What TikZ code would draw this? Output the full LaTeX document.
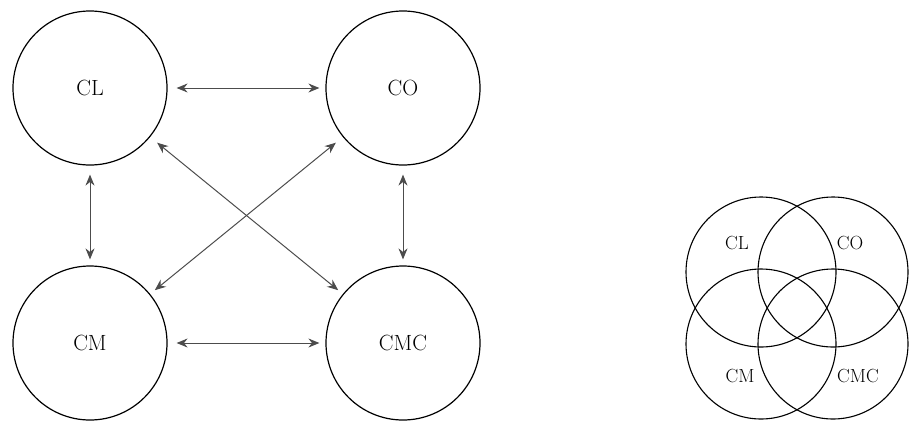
\documentclass[tikz,border=0pt]{standalone}
\usepackage{fontspec}
\usetikzlibrary{arrows.meta}

\begin{document}
\begin{tikzpicture}[x=1pt,y=-1pt]
\useasboundingbox (0,0) rectangle (912,421);
\tikzset{
  setnode/.style={circle, draw=black, line width=1.2pt, minimum size=154pt, inner sep=0pt, font=\fontsize{22}{26}\selectfont},
  link/.style={black!70, line width=1pt, {Stealth[length=11pt, width=9pt]}-{Stealth[length=11pt, width=9pt]}, shorten <=9pt, shorten >=6pt},
  venn/.style={draw=black, line width=1.1pt},
  vennlabel/.style={font=\fontsize{19}{22}\selectfont}
}
\node[setnode] (cl) at (90,88) {CL};
\node[setnode] (co) at (403,88) {CO};
\node[setnode] (cm) at (90,343) {CM};
\node[setnode] (cmc) at (403,343) {CMC};
\draw[link] (cl) -- (co);
\draw[link] (cm) -- (cmc);
\draw[link] (cl) -- (cm);
\draw[link] (co) -- (cmc);
\draw[link] (cl) -- (cmc);
\draw[link] (co) -- (cm);
\draw[venn] (761,272) circle (75);
\draw[venn] (833,272) circle (75);
\draw[venn] (761,344) circle (75);
\draw[venn] (833,344) circle (75);
\node[vennlabel] (vcl) at (737,243) {CL};
\node[vennlabel] (vco) at (850,243) {CO};
\node[vennlabel] (vcm) at (740,376) {CM};
\node[vennlabel] (vcmc) at (858,376) {CMC};
\end{tikzpicture}
\end{document}
